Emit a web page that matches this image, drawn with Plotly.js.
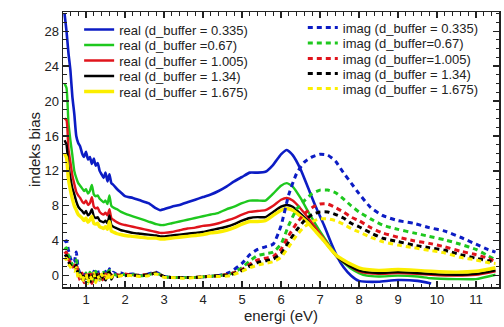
<!DOCTYPE html>
<html>
<head>
<meta charset="utf-8">
<script src="https://cdn.plot.ly/plotly-3.0.1.min.js"></script>
<style>html,body{margin:0;padding:0;background:#fff;}#chart{width:504px;height:327px;}</style>
</head>
<body>
<div id="chart"></div>
<script>
// ---- data ----
const xReal = [0.45,0.5,0.55,0.6,0.65,0.7,0.75,0.8,0.85,0.9,0.95,1.0,1.05,1.1,1.15,1.2,1.25,1.3,1.35,1.4,1.45,1.5,1.55,1.6,1.65,1.7,1.8,1.9,2.0,2.2,2.4,2.6,2.8,2.9,3.0,3.2,3.4,3.6,3.8,4.0,4.2,4.4,4.6,4.8,5.0,5.2,5.4,5.6,5.8,6.0,6.15,6.3,6.5,6.7,6.9,7.1,7.3,7.45,7.6,7.8,8.0,8.2,8.5,9.0,9.5,9.85,10.5,11.0,11.5];

const real0335 = [30.0,28.0,25.5,23.5,20.5,18.5,16.0,15.2,14.8,14.0,13.6,14.2,13.3,13.6,12.8,13.4,12.6,12.9,12.0,11.6,11.2,11.8,10.8,11.6,10.6,10.4,9.9,9.5,9.1,8.9,8.6,8.3,7.7,7.5,7.6,7.9,8.1,8.4,8.7,9.0,9.3,9.7,10.2,10.8,11.3,11.8,11.8,11.9,12.7,13.9,14.4,13.8,12.2,10.0,7.8,5.8,3.6,2.1,1.0,0.0,-0.6,-0.7,-0.7,-0.5,-0.6,-0.9,null,null,null];
const real067 = [22.0,21.5,17.5,15.5,13.8,12.0,11.2,10.6,10.3,10.0,9.7,9.9,9.4,9.7,10.4,9.3,9.1,9.2,8.8,8.6,8.4,8.6,8.2,9.2,8.0,7.8,7.6,7.3,7.1,6.8,6.5,6.2,5.9,5.8,5.8,6.0,6.2,6.4,6.6,6.8,7.0,7.2,7.6,7.9,8.3,8.6,8.6,8.6,9.4,10.3,10.6,10.2,8.9,7.3,5.8,4.4,3.1,2.1,1.5,0.8,0.3,0.0,-0.1,0.0,-0.1,-0.3,-0.4,-0.4,0.1];
const real1005 = [18.0,17.8,14.5,13.0,11.5,10.5,9.6,9.2,8.9,8.5,8.3,8.6,8.1,8.3,9.0,7.9,7.7,7.8,7.3,7.1,7.0,7.2,6.9,7.6,6.6,6.4,6.1,5.9,5.8,5.6,5.4,5.2,5.0,4.9,4.9,5.0,5.2,5.4,5.5,5.7,5.8,6.0,6.3,6.6,7.0,7.3,7.4,7.5,8.0,8.7,8.9,8.6,7.7,6.6,5.4,4.2,3.0,2.1,1.6,1.0,0.5,0.3,0.2,0.3,0.2,0.1,0.0,0.1,0.5];
const real134 = [15.5,15.0,12.5,11.2,10.0,9.3,8.5,7.9,7.6,7.4,7.1,7.4,6.9,7.1,7.6,6.8,6.6,6.7,6.3,6.2,6.1,6.3,6.0,6.9,5.8,5.6,5.4,5.2,5.1,4.9,4.8,4.7,4.6,4.5,4.5,4.6,4.7,4.8,4.9,5.0,5.2,5.4,5.6,5.9,6.3,6.6,6.7,6.7,7.3,7.9,8.1,7.9,7.1,6.2,5.1,4.0,2.9,2.1,1.6,1.0,0.6,0.4,0.3,0.4,0.3,0.2,0.1,0.2,0.6];
const real1675 = [14.0,13.5,11.0,9.8,8.8,8.0,7.5,7.0,6.8,6.6,6.3,6.6,6.1,6.4,6.8,6.0,5.9,6.0,5.6,5.5,5.4,5.6,5.3,6.2,5.1,5.0,4.8,4.7,4.6,4.5,4.4,4.3,4.3,4.2,4.2,4.3,4.4,4.5,4.6,4.7,4.9,5.0,5.2,5.5,5.9,6.2,6.2,6.3,6.9,7.5,7.7,7.5,6.8,6.0,5.0,4.0,2.9,2.2,1.8,1.3,0.9,0.7,0.6,0.7,0.6,0.5,0.4,0.5,0.9];

const xImag = [0.45,0.5,0.55,0.6,0.65,0.7,0.75,0.8,0.85,0.9,0.95,1.0,1.05,1.1,1.15,1.2,1.25,1.3,1.35,1.4,1.45,1.5,1.55,1.6,1.65,1.7,1.8,1.9,2.0,2.2,2.4,2.6,2.8,3.0,3.2,3.5,3.8,4.1,4.4,4.7,5.0,5.2,5.4,5.6,5.8,6.0,6.2,6.4,6.6,6.8,7.0,7.2,7.4,7.6,7.8,8.0,8.3,8.6,9.0,9.4,9.8,10.2,10.6,11.0,11.3,11.5];

const imag0335 = [3.8,4.0,2.9,2.0,1.5,1.6,2.7,0.8,0.2,-0.4,0.3,-0.6,0.4,0.2,-0.8,0.5,-0.2,0.6,-0.5,0.3,-0.3,0.5,0.1,0.8,-0.2,0.4,0.1,0.3,0.1,0.2,0.0,0.2,0.4,-0.1,-0.2,-0.2,-0.2,-0.1,0.0,0.4,1.4,2.4,3.0,3.3,3.6,5.7,9.3,11.7,13.0,13.6,13.9,13.8,13.1,11.8,10.6,9.4,7.8,6.9,6.3,6.0,5.5,5.1,4.4,3.6,3.0,2.7];
const imag067 = [3.0,3.2,2.3,1.8,1.3,1.2,1.8,0.5,-0.2,0.2,-0.5,0.3,-0.7,0.4,0.0,-0.6,0.5,-0.3,0.2,-0.4,0.4,-0.1,0.3,0.6,-0.3,0.2,0.0,0.2,0.1,0.1,0.0,0.1,0.3,-0.1,-0.2,-0.2,-0.2,-0.1,0.0,0.2,0.9,1.7,2.3,2.5,2.7,3.6,5.8,7.6,8.6,9.4,9.8,9.8,9.5,8.8,8.0,7.3,6.5,5.8,5.3,4.9,4.5,4.1,3.6,3.0,2.3,1.8];
const imag1005 = [2.5,2.7,1.9,1.5,1.0,1.1,1.4,0.2,-0.5,0.3,-0.8,0.1,-0.4,0.5,-0.9,0.2,-0.5,0.4,-0.2,0.1,-0.6,0.2,-0.3,0.5,0.0,-0.2,0.1,0.0,0.2,0.0,0.1,0.1,0.3,-0.1,-0.2,-0.2,-0.2,-0.1,0.0,0.2,0.7,1.3,1.8,2.0,2.2,3.0,4.6,6.0,7.1,7.8,8.2,8.2,7.8,7.3,6.7,6.3,5.5,4.9,4.4,4.0,3.7,3.3,2.8,2.4,2.0,1.6];
const imag134 = [2.2,2.3,1.6,1.2,0.9,0.8,1.2,0.0,0.3,-0.6,0.2,-0.3,0.3,-0.8,0.2,-0.2,0.3,-0.6,0.1,-0.3,0.2,-0.5,0.2,0.4,-0.4,0.1,-0.1,0.1,0.0,0.1,0.0,0.1,0.3,-0.1,-0.2,-0.2,-0.2,-0.1,0.0,0.1,0.6,1.1,1.5,1.7,1.9,2.5,3.9,5.2,6.3,7.0,7.3,7.3,7.0,6.6,6.0,5.6,4.9,4.3,3.9,3.5,3.2,2.9,2.4,2.0,1.7,1.6];
const imag1675 = [1.8,2.0,1.3,1.0,0.6,0.5,0.9,-0.3,0.1,-0.7,-0.1,0.2,-0.9,0.0,-0.4,0.3,-0.8,0.0,-0.5,0.2,-0.3,0.0,-0.6,0.3,-0.2,0.0,-0.1,0.0,0.0,0.0,-0.1,0.0,0.2,-0.2,-0.2,-0.3,-0.2,-0.1,-0.1,0.0,0.5,0.9,1.2,1.4,1.6,2.1,3.3,4.6,5.6,6.2,6.5,6.5,6.3,5.9,5.4,5.0,4.4,3.9,3.5,3.2,2.9,2.6,2.1,1.8,1.5,1.4];

const realNames = ['real (d_buffer = 0.335)','real (d_buffer =0.67)','real (d_buffer = 1.005)','real (d_buffer = 1.34)','real (d_buffer = 1.675)'];
const imagNames = ['imag (d_buffer = 0.335)','imag (d_buffer=0.67)','imag (d_buffer=1.005)','imag (d_buffer = 1.34)','imag (d_buffer = 1.675)'];
const colors = ['#0c1cc4','#1ec81e','#e0141c','#000000','#fbee00'];
const realWidths = [2.6,2.4,2.4,2.4,3.4];

// ---- layout helpers (legend row positions in pixels from the top) ----
const W = 504, H = 327, M = {l: 63, r: 5, t: 12, b: 40};
const plotH = H - M.t - M.b;
const realRowPx = [29.5, 45, 60.5, 76, 91.5];
const imagRowPx = [27.5, 43, 58.5, 73.5, 88.5];
const toPaperY = px => 1 - (px - M.t) / plotH;

const legendFont = {family: 'Liberation Sans, Arial, sans-serif', size: 13, color: '#222'};

// ---- traces ----
const realSeries = [real0335, real067, real1005, real134, real1675];
const imagSeries = [imag0335, imag067, imag1005, imag134, imag1675];
const traces = [];
const layoutLegends = {};
function legendId(k) { return k === 0 ? 'legend' : 'legend' + (k + 1); }

realSeries.forEach((ys, i) => {
  const id = legendId(i);
  traces.push({x: xReal, y: ys, name: realNames[i], type: 'scatter', mode: 'lines',
    line: {color: colors[i], width: realWidths[i], shape: 'spline', smoothing: 0.5},
    legend: id});
  layoutLegends[id] = {x: 0.037, y: toPaperY(realRowPx[i]), xanchor: 'left', yanchor: 'middle',
    bgcolor: 'rgba(0,0,0,0)', font: legendFont, itemwidth: 30};
});
imagSeries.forEach((ys, i) => {
  const id = legendId(i + 5);
  traces.push({x: xImag, y: ys, name: imagNames[i], type: 'scatter', mode: 'lines',
    line: {color: colors[i], width: 3, dash: '5px,4px', shape: 'spline', smoothing: 0.5},
    legend: id});
  layoutLegends[id] = {x: 0.55, y: toPaperY(imagRowPx[i]), xanchor: 'left', yanchor: 'middle',
    bgcolor: 'rgba(0,0,0,0)', font: legendFont, itemwidth: 30};
});

const font = {family: 'Liberation Sans, Arial, sans-serif', size: 13, color: '#222'};
const layout = Object.assign({
  width: W, height: H,
  margin: M,
  paper_bgcolor: '#fff', plot_bgcolor: '#fff',
  font: font,
  showlegend: true,
  xaxis: {
    range: [0.41, 11.59], tickmode: 'linear', tick0: 0, dtick: 1,
    ticks: 'inside', ticklen: 6, tickwidth: 1.3, tickcolor: '#222',
    showline: true, linecolor: '#222', linewidth: 1.5, mirror: 'ticks',
    showgrid: false, zeroline: false,
    minor: {dtick: 0.2, ticks: 'inside', ticklen: 3.5, tickwidth: 1, tickcolor: '#222', showgrid: false},
    tickfont: font,
    title: {text: 'energi (eV)', font: {family: font.family, size: 15, color: '#222'}, standoff: 4}
  },
  yaxis: {
    range: [-1.3, 30.2], tickmode: 'linear', tick0: 0, dtick: 4,
    ticks: 'inside', ticklen: 6, tickwidth: 1.3, tickcolor: '#222',
    showline: true, linecolor: '#222', linewidth: 1.5, mirror: 'ticks',
    showgrid: false, zeroline: false,
    minor: {dtick: 1, ticks: 'inside', ticklen: 3.5, tickwidth: 1, tickcolor: '#222', showgrid: false},
    tickfont: font,
    title: {text: 'indeks bias', font: {family: font.family, size: 15, color: '#222'}, standoff: 0}
  }
}, layoutLegends);
Plotly.newPlot('chart', traces, layout, {displayModeBar: false, staticPlot: true});
</script>
</body>
</html>
